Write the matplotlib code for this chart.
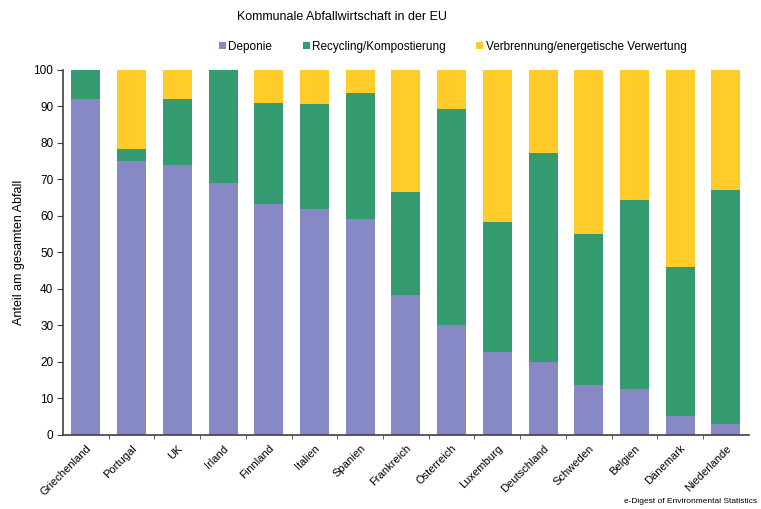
import matplotlib
matplotlib.use("Agg")
import matplotlib.pyplot as plt
import numpy as np
from matplotlib.patches import Patch

plt.rcParams['font.family'] = ['Liberation Sans', 'DejaVu Sans']

countries = ["Griechenland", "Portugal", "UK", "Irland", "Finnland", "Italien",
             "Spanien", "Frankreich", "Österreich", "Luxemburg", "Deutschland",
             "Schweden", "Belgien", "Dänemark", "Niederlande"]
deponie = [92.0, 75.0, 74.0, 69.0, 63.3, 61.9, 59.3, 38.3, 30.0, 22.7, 20.0, 13.8, 12.7, 5.1, 2.9]
recycling = [8.0, 3.3, 18.1, 31.0, 27.6, 28.8, 34.3, 28.2, 59.3, 35.7, 57.2, 41.4, 51.7, 41.0, 64.3]
verbrennung = [0.0, 21.7, 7.9, 0.0, 9.1, 9.3, 6.4, 33.5, 10.7, 41.6, 22.8, 44.8, 35.6, 53.9, 32.8]
series_names = ["Deponie", "Recycling/Kompostierung", "Verbrennung/energetische Verwertung"]
colors = ["#8689C3", "#339B6F", "#FFCC29"]
yticks = [0, 10, 20, 30, 40, 50, 60, 70, 80, 90, 100]

fig = plt.figure(figsize=(7.61, 5.09), dpi=100)
ax = fig.add_axes([0.0828, 0.1454, 0.9012, 0.7171])

x = np.arange(len(countries))
w = 0.635
d = np.array(deponie)
r = np.array(recycling)
v = np.array(verbrennung)
ax.bar(x, d, w, color=colors[0], edgecolor='none')
ax.bar(x, r, w, bottom=d, color=colors[1], edgecolor='none')
ax.bar(x, v, w, bottom=d + r, color=colors[2], edgecolor='none')

ax.set_xlim(-0.5, len(countries) - 0.5)
ax.set_ylim(0, 100)
ax.set_yticks(yticks)
ax.set_yticklabels([str(t) for t in yticks], fontsize=8.5)
ax.set_xticks(x)
ax.set_xticklabels(countries, rotation=45, ha='right', rotation_mode='anchor', fontsize=8)
ax.tick_params(axis='x', which='major', length=0, pad=6)
ax.set_xticks(np.arange(0.5, len(countries) - 0.5, 1.0), minor=True)
ax.tick_params(axis='x', which='minor', length=3, direction='out', color='#404040')
ax.tick_params(axis='y', length=4, direction='out', color='#404040', pad=3)

for s in ['top', 'right']:
    ax.spines[s].set_visible(False)
for s in ['left', 'bottom']:
    ax.spines[s].set_color('#404040')
    ax.spines[s].set_linewidth(1.2)

ax.set_ylabel("Anteil am gesamten Abfall", fontsize=9, labelpad=6)

fig.text(0.45, 0.966, "Kommunale Abfallwirtschaft in der EU", ha='center', va='center', fontsize=9)

handles = [Patch(facecolor=c, edgecolor='none') for c in colors]
fig.legend(handles, series_names, loc='center', bbox_to_anchor=(0.5946, 0.908), ncol=3,
           frameon=False, fontsize=8.5, handlelength=0.6, handleheight=0.6,
           handletextpad=0.2, columnspacing=2.6)

fig.text(0.995, 0.008, "e-Digest of Environmental Statistics", ha='right', va='bottom', fontsize=6)

fig.savefig("out.png", dpi=100)
